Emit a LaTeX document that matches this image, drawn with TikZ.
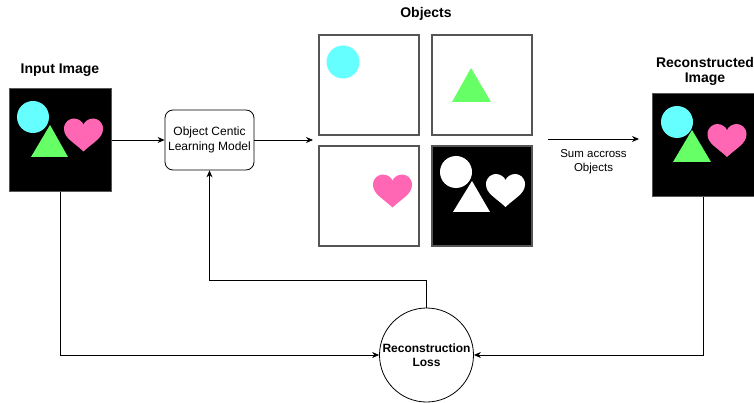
\documentclass[tikz,border=0pt]{standalone}
\usepackage{fontspec}
\setmainfont{Liberation Sans}
\usepackage{xcolor}
\usepackage{tikz}
\usetikzlibrary{positioning}
\usetikzlibrary{arrows.meta}

\definecolor{shapecyan}{HTML}{66FFFF}
\definecolor{shapegreen}{HTML}{66FF66}
\definecolor{shapepink}{HTML}{FF66B3}
\definecolor{framegray}{HTML}{555555}

\tikzset{
  arr/.style={line width=0.8pt, -{Stealth[length=7pt,width=6pt]}},
  title/.style={font=\fontsize{14}{15}\selectfont\bfseries, align=center},
  imgbox/.style={draw=framegray, line width=1pt, fill=black, minimum width=102pt, minimum height=103pt},
  panel/.style={draw=framegray, line width=1.2pt, fill=white, minimum size=100pt},
  modelbox/.style={draw=black, line width=0.8pt, rounded corners=8pt, minimum width=89pt, minimum height=60pt,
    inner sep=2pt, align=center, font=\fontsize{12}{14.5}\selectfont},
  heart/.pic={
    \path[pic actions] (0,16.5) .. controls (-9.75,7.2) and (-19.5,3.1) .. (-19.5,-6.2)
      .. controls (-19.5,-13.4) and (-13.65,-16.5) .. (-9.75,-16.5)
      .. controls (-4.9,-16.5) and (-1,-13.4) .. (0,-10.3)
      .. controls (1,-13.4) and (4.9,-16.5) .. (9.75,-16.5)
      .. controls (13.65,-16.5) and (19.5,-13.4) .. (19.5,-6.2)
      .. controls (19.5,3.1) and (9.75,7.2) .. (0,16.5) -- cycle;
  }
}

\begin{document}
\begin{tikzpicture}[x=1pt,y=-1pt]
    \useasboundingbox (0,0) rectangle (754,403);

    % Input image
    \node[title] (intitle) at (60,70) {Input Image};
    \node[imgbox] (inimg) at (60,140) {};
    \fill[shapecyan] (33,117) circle[radius=16];
    \fill[shapegreen] (50,125) -- (31,157) -- (68,157) -- cycle;
    \pic[fill=shapepink] at (83.5,135) {heart};

    % Model
    \node[modelbox] (model) at (209.5,140) {Object Centic\\Learning Model};

    % Object slots
    \node[title] (objtitle) at (426,14) {Objects};
    \node[panel] (obja) at (369,85) {};
    \node[panel] (objb) at (482,85) {};
    \node[panel] (objc) at (369,196) {};
    \node[panel, fill=black] (objd) at (482,196) {};
    \fill[shapecyan] (343,62) circle[radius=16.5];
    \fill[shapegreen] (471,68) -- (452,102) -- (491,102) -- cycle;
    \pic[fill=shapepink] at (392.5,191) {heart};
    \fill[white] (456,172) circle[radius=16];
    \fill[white] (472,181) -- (453,212) -- (490,212) -- cycle;
    \pic[fill=white] at (505.5,190.5) {heart};

    % Reconstructed image
    \node[title] (rectitle) at (705,71) {Reconstructed\\Image};
    \node[imgbox] (recimg) at (703,145.5) {};
    \fill[shapecyan] (677,122) circle[radius=16];
    \fill[shapegreen] (692,130) -- (673,162) -- (711,162) -- cycle;
    \pic[fill=shapepink] at (727,140.5) {heart};

    % Loss
    \node[draw, circle, line width=0.8pt, minimum size=94pt, inner sep=0pt, align=center,
      font=\fontsize{12}{14.5}\selectfont\bfseries] (loss) at (426.5,355) {Reconstruction\\Loss};

    % Connectors
    \coordinate (objin) at (313,140);
    \coordinate (sumstart) at (548,139);
    \coordinate (sumend) at (639,139);
    \draw[arr] (inimg.east) -- (model.west);
    \draw[arr] (model.east) -- (objin);
    \draw[arr] (sumstart) -- (sumend) node[midway, below=7pt, align=center,
      font=\fontsize{11.5}{13.5}\selectfont] (sumlabel) {Sum accross\\Objects};
    \draw[arr] (inimg.south) |- (loss.west);
    \draw[arr] (recimg.south) |- (loss.east);
    \draw[arr] (loss.north) -- ++(0,-27) -| (model.south);
\end{tikzpicture}
\end{document}
